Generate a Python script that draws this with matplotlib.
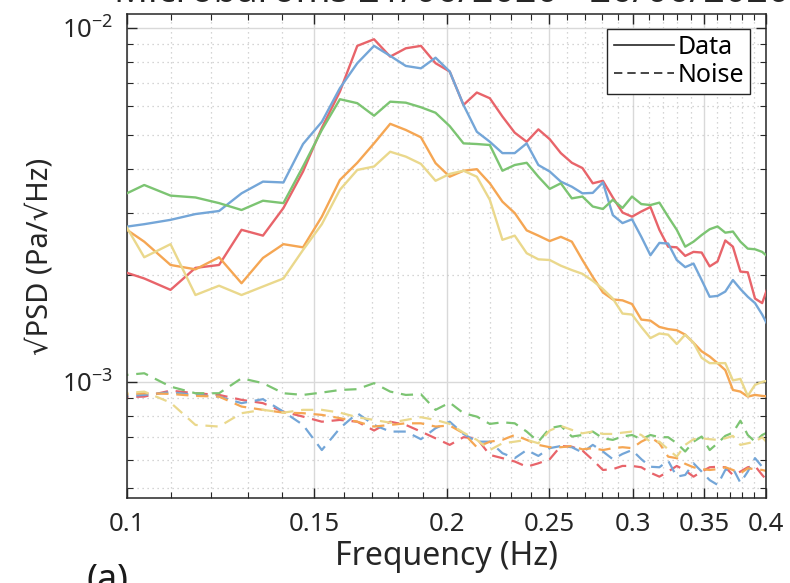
import numpy as np
import matplotlib
matplotlib.use("Agg")
import matplotlib.pyplot as plt
from matplotlib.lines import Line2D
from matplotlib.ticker import FixedLocator, FixedFormatter, LogLocator, NullFormatter

plt.rcParams['font.family'] = ['Noto Sans', 'DejaVu Sans']
plt.rcParams['mathtext.fontset'] = 'custom'
plt.rcParams['mathtext.rm'] = 'Noto Sans'

freq = [0.0977, 0.1038, 0.1099, 0.1160, 0.1221, 0.1282, 0.1343, 0.1404, 0.1465, 0.1526,
        0.1587, 0.1648, 0.1709, 0.1770, 0.1831, 0.1892, 0.1953, 0.2014, 0.2075, 0.2136,
        0.2197, 0.2258, 0.2319, 0.2380, 0.2441, 0.2502, 0.2563, 0.2625, 0.2686, 0.2747,
        0.2808, 0.2869, 0.2930, 0.2991, 0.3052, 0.3113, 0.3174, 0.3235, 0.3296, 0.3357,
        0.3418, 0.3479, 0.3540, 0.3601, 0.3662, 0.3723, 0.3784, 0.3845, 0.3906, 0.3967,
        0.4028]

data_red = [0.00208, 0.00196, 0.00182, 0.00210, 0.00214, 0.00269, 0.00259, 0.00310, 0.00393, 0.00522,
            0.00661, 0.00890, 0.00929, 0.00830, 0.00876, 0.00890, 0.00795, 0.00753, 0.00606, 0.00657,
            0.00633, 0.00562, 0.00506, 0.00477, 0.00517, 0.00485, 0.00443, 0.00416, 0.00402, 0.00364,
            0.00370, 0.00332, 0.00301, 0.00293, 0.00303, 0.00312, 0.00269, 0.00241, 0.00240, 0.00227,
            0.00233, 0.00232, 0.00212, 0.00219, 0.00251, 0.00241, 0.00205, 0.00204, 0.00172, 0.00167,
            0.00190]
data_blue = [0.00272, 0.00279, 0.00287, 0.00298, 0.00304, 0.00341, 0.00368, 0.00366, 0.00470, 0.00543,
             0.00676, 0.00795, 0.00890, 0.00834, 0.00781, 0.00769, 0.00824, 0.00753, 0.00606, 0.00509,
             0.00477, 0.00443, 0.00443, 0.00472, 0.00410, 0.00393, 0.00368, 0.00356, 0.00341, 0.00342,
             0.00366, 0.00296, 0.00281, 0.00288, 0.00257, 0.00228, 0.00247, 0.00246, 0.00221, 0.00211,
             0.00216, 0.00194, 0.00174, 0.00175, 0.00180, 0.00194, 0.00183, 0.00174, 0.00167, 0.00155,
             0.00142]
data_green = [0.00330, 0.00360, 0.00336, 0.00332, 0.00320, 0.00306, 0.00325, 0.00320, 0.00406, 0.00515,
              0.00629, 0.00613, 0.00565, 0.00619, 0.00615, 0.00597, 0.00576, 0.00528, 0.00472, 0.00470,
              0.00467, 0.00395, 0.00410, 0.00416, 0.00380, 0.00351, 0.00364, 0.00330, 0.00334, 0.00313,
              0.00308, 0.00327, 0.00310, 0.00334, 0.00318, 0.00316, 0.00321, 0.00293, 0.00269, 0.00241,
              0.00249, 0.00260, 0.00270, 0.00275, 0.00264, 0.00266, 0.00249, 0.00238, 0.00237, 0.00233,
              0.00224]
data_orange = [0.00282, 0.00249, 0.00214, 0.00208, 0.00225, 0.00190, 0.00224, 0.00245, 0.00240, 0.00293,
               0.00372, 0.00416, 0.00472, 0.00536, 0.00515, 0.00491, 0.00415, 0.00380, 0.00395, 0.00399,
               0.00364, 0.00323, 0.00300, 0.00268, 0.00259, 0.00250, 0.00257, 0.00249, 0.00221, 0.00198,
               0.00179, 0.00171, 0.00170, 0.00166, 0.00150, 0.00149, 0.00143, 0.00141, 0.00140, 0.00136,
               0.00129, 0.00122, 0.00118, 0.00113, 0.00108, 0.000949, 0.000939, 0.000909, 0.000919, 0.000913,
               0.000909]
data_yellow = [0.00307, 0.00225, 0.00245, 0.00176, 0.00187, 0.00176, 0.00186, 0.00196, 0.00236, 0.00279,
               0.00349, 0.00397, 0.00406, 0.00447, 0.00433, 0.00413, 0.00370, 0.00387, 0.00395, 0.00380,
               0.00327, 0.00252, 0.00259, 0.00231, 0.00222, 0.00221, 0.00213, 0.00207, 0.00202, 0.00193,
               0.00183, 0.00172, 0.00156, 0.00155, 0.00143, 0.00133, 0.00137, 0.00136, 0.00128, 0.00136,
               0.00129, 0.00117, 0.00113, 0.00113, 0.00113, 0.00101, 0.00102, 0.000913, 0.000981, 0.00100,
               0.00101]

noise_red = [0.905, 0.909, 0.945, 0.929, 0.919, 0.890, 0.871, 0.824, 0.798, 0.772,
             0.781, 0.772, 0.729, 0.772, 0.756, 0.724, 0.693, 0.664, 0.698, 0.693,
             0.622, 0.609, 0.596, 0.576, 0.589, 0.605, 0.659, 0.656, 0.640, 0.602,
             0.564, 0.567, 0.579, 0.579, 0.574, 0.554, 0.540, 0.558, 0.579, 0.562,
             0.540, 0.558, 0.574, 0.576, 0.574, 0.546, 0.558, 0.574, 0.579, 0.546,
             0.519]
noise_blue = [0.909, 0.919, 0.935, 0.919, 0.909, 0.871, 0.894, 0.824, 0.756, 0.642,
              0.740, 0.816, 0.756, 0.724, 0.724, 0.689, 0.740, 0.772, 0.713, 0.678,
              0.678, 0.629, 0.609, 0.642, 0.618, 0.650, 0.659, 0.654, 0.632, 0.664,
              0.636, 0.605, 0.626, 0.642, 0.605, 0.576, 0.574, 0.599, 0.540, 0.546,
              0.589, 0.558, 0.528, 0.512, 0.564, 0.570, 0.519, 0.558, 0.609, 0.576,
              0.546]
noise_green = [1.040, 1.058, 0.970, 0.929, 0.929, 1.024, 0.992, 0.929, 0.919, 0.933,
               0.949, 0.954, 0.992, 0.939, 0.919, 0.923, 0.834, 0.874, 0.816, 0.798,
               0.761, 0.769, 0.764, 0.724, 0.678, 0.740, 0.751, 0.701, 0.708, 0.724,
               0.693, 0.686, 0.701, 0.708, 0.689, 0.708, 0.698, 0.698, 0.671, 0.636,
               0.678, 0.701, 0.642, 0.671, 0.704, 0.719, 0.777, 0.708, 0.678, 0.708,
               0.724]
noise_orange = [0.919, 0.929, 0.925, 0.913, 0.909, 0.852, 0.834, 0.819, 0.816, 0.807,
                0.790, 0.772, 0.748, 0.756, 0.764, 0.764, 0.748, 0.753, 0.716, 0.654,
                0.678, 0.686, 0.708, 0.686, 0.664, 0.654, 0.654, 0.659, 0.645, 0.650,
                0.642, 0.650, 0.654, 0.650, 0.678, 0.698, 0.671, 0.615, 0.609, 0.587,
                0.574, 0.567, 0.564, 0.567, 0.574, 0.564, 0.552, 0.570, 0.567, 0.564,
                0.558]
noise_yellow = [0.925, 0.939, 0.874, 0.756, 0.748, 0.816, 0.834, 0.819, 0.834, 0.834,
                0.819, 0.795, 0.781, 0.767, 0.781, 0.795, 0.781, 0.761, 0.719, 0.686,
                0.642, 0.671, 0.678, 0.686, 0.671, 0.729, 0.751, 0.732, 0.716, 0.724,
                0.713, 0.713, 0.719, 0.724, 0.708, 0.678, 0.678, 0.645, 0.615, 0.664,
                0.689, 0.693, 0.689, 0.686, 0.693, 0.704, 0.664, 0.671, 0.678, 0.698,
                0.664]
noise_scale = 1e-3

colors = {'red': '#E8646A', 'blue': '#74A6D8', 'green': '#7CC472', 'orange': '#F5A653', 'yellow': '#EAD88C'}

x_ticks = [0.1, 0.15, 0.2, 0.25, 0.3, 0.35, 0.4]
x_ticklabels = ['0.1', '0.15', '0.2', '0.25', '0.3', '0.35', '0.4']
x_minor = [0.11, 0.12, 0.13, 0.14, 0.16, 0.17, 0.18, 0.19, 0.21, 0.22, 0.23, 0.24,
           0.26, 0.27, 0.28, 0.29, 0.31, 0.32, 0.33, 0.34, 0.36, 0.37, 0.38, 0.39]

fig = plt.figure(figsize=(7.9, 5.83), dpi=100)
ax = fig.add_axes([0.1608, 0.1458, 0.8088, 0.8302])

series = [('red', data_red, noise_red), ('blue', data_blue, noise_blue),
          ('green', data_green, noise_green), ('orange', data_orange, noise_orange),
          ('yellow', data_yellow, noise_yellow)]

for name, d, n in series:
    ax.plot(freq, np.array(n) * noise_scale, color=colors[name], lw=1.6, ls=(0, (5.5, 3.5)), zorder=2)
for name, d, n in series:
    ax.plot(freq, d, color=colors[name], lw=1.7, zorder=3)

ax.set_xscale('log')
ax.set_yscale('log')
ax.set_xlim(0.1, 0.4)
ax.set_ylim(4.70e-4, 1.095e-2)

ax.xaxis.set_major_locator(FixedLocator(x_ticks))
ax.xaxis.set_major_formatter(FixedFormatter(x_ticklabels))
ax.xaxis.set_minor_locator(FixedLocator(x_minor))
ax.xaxis.set_minor_formatter(NullFormatter())
ax.yaxis.set_major_locator(LogLocator(base=10, numticks=10))
ax.yaxis.set_minor_locator(LogLocator(base=10, subs=np.arange(2, 10), numticks=20))
ax.yaxis.set_minor_formatter(NullFormatter())

ax.grid(True, which='major', color='#d9d9d9', lw=1.0, ls='-', zorder=0)
ax.grid(True, which='minor', color='#c8c8c8', lw=0.9, ls=(0, (1, 3)), zorder=0)
ax.set_axisbelow(True)

ax.tick_params(which='both', direction='in', top=True, right=True, colors='#262626',
               labelcolor='#262626', labelsize=18.5)
ax.tick_params(which='major', length=7, width=1.0, pad=10)
ax.tick_params(which='minor', length=4, width=0.8)
for s in ax.spines.values():
    s.set_color('#262626')
    s.set_linewidth(1.1)

ax.set_xlabel('Frequency (Hz)', fontsize=23, color='#262626', labelpad=2)
ax.set_ylabel('√PSD (Pa/√Hz)', fontsize=21, color='#262626', labelpad=5)

handles = [Line2D([], [], color='#262626', lw=1.2, ls='-'),
           Line2D([], [], color='#262626', lw=1.2, ls=(0, (5, 3)))]
leg = ax.legend(handles, ['Data', 'Noise'], loc='upper right', fontsize=18,
                frameon=True, fancybox=False, edgecolor='#262626', framealpha=1,
                borderpad=0.25, labelspacing=0.1, handlelength=2.4, handletextpad=0.15,
                borderaxespad=0.0, bbox_to_anchor=(0.975, 0.969))
leg.get_frame().set_linewidth(1.0)

fig.text(452 / 790, 1 - 2 / 583, 'Microbaroms 21/06/2020 - 26/06/2020', ha='center', va='baseline',
         fontsize=27, fontweight='bold', color='#262626')
fig.text(86 / 790, 1 - 563 / 583, '(a)', ha='left', va='top', fontsize=26, fontweight='bold',
         color='#1a1a1a')

fig.savefig('out.png', dpi=100)
